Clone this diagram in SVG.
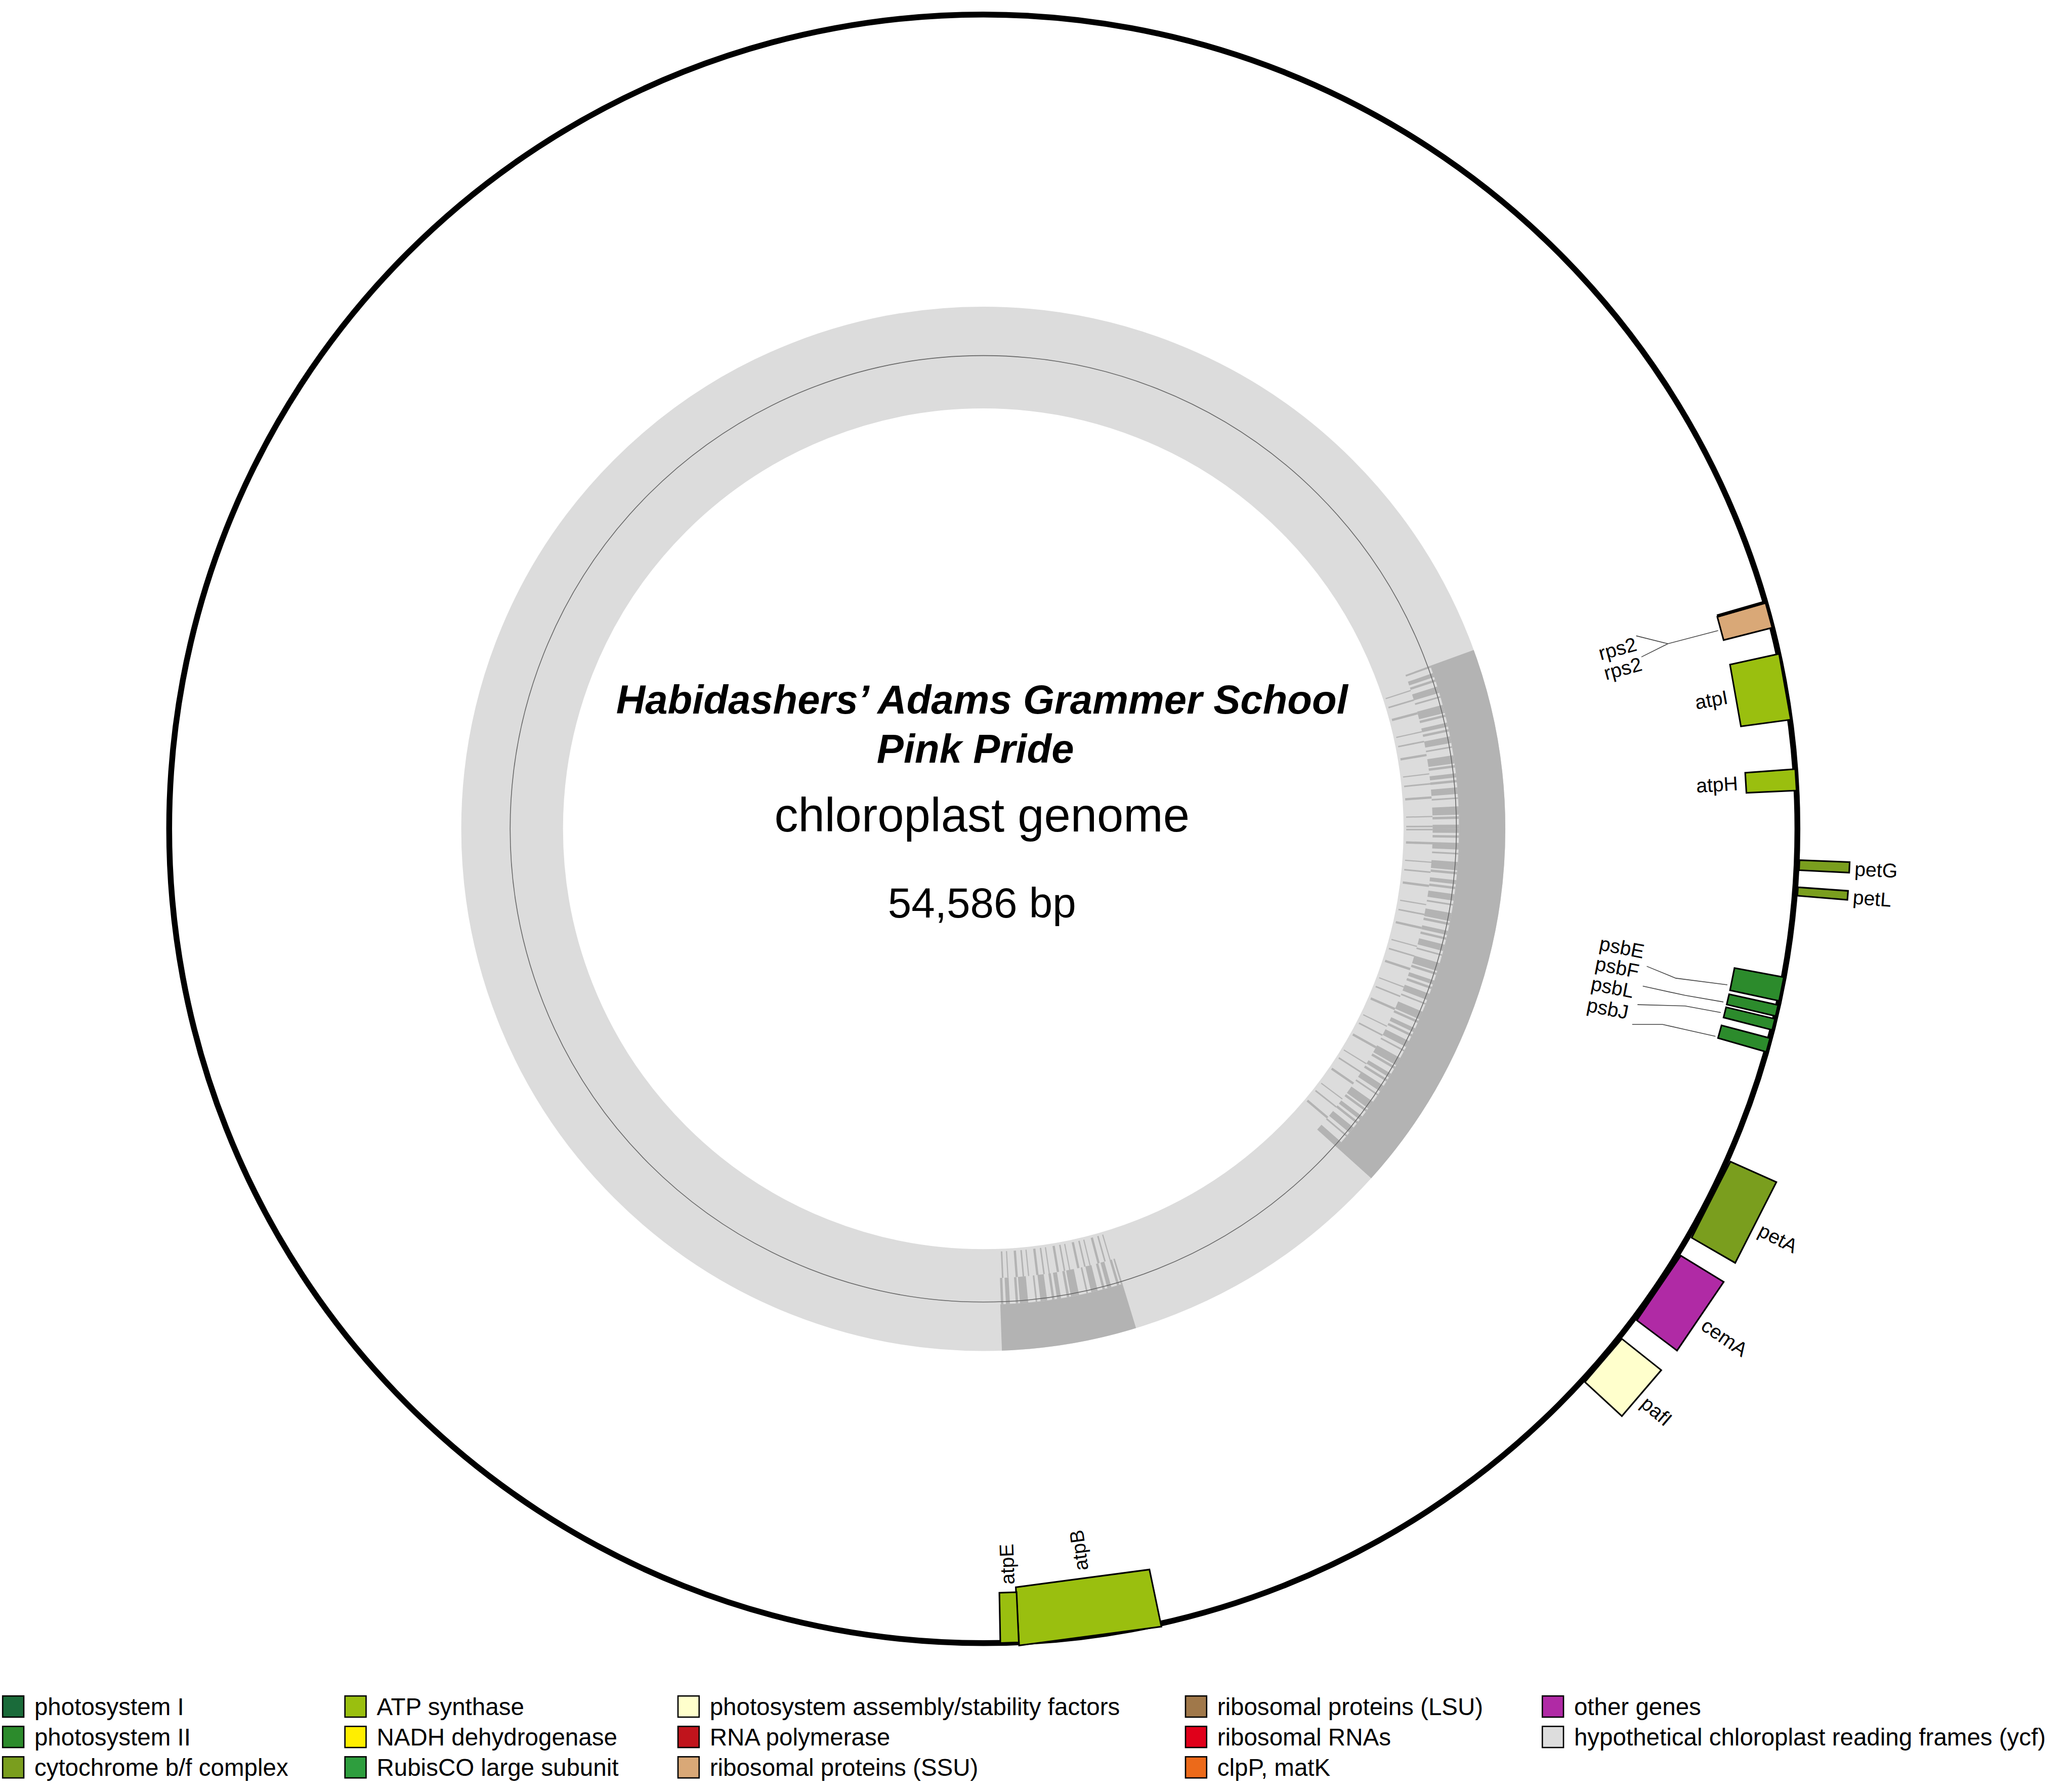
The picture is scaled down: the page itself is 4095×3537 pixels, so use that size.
<svg xmlns="http://www.w3.org/2000/svg" width="4095" height="3537" viewBox="0 0 4095 3537">
<style>
text{font-family:"Liberation Sans",Arial,sans-serif;fill:#000}
.g{stroke:#000;stroke-width:1.2}
.lbl{font-size:15px;dominant-baseline:central}
.lead{fill:none;stroke:#444;stroke-width:0.6}
.leg{font-size:18.2px;dominant-baseline:central}
.sw{stroke:#000;stroke-width:1}
</style>
<defs>
<clipPath id="c1"><polygon points="744,627 1139,483 1164,627 1139,771 1056,908"/></clipPath>
<clipPath id="c2"><polygon points="744,627 867,1029 759,1047"/></clipPath>
</defs>
<rect width="4095" height="3537" fill="#fff"/>
<g transform="scale(2.612)">
<g id="gc">
<circle cx="744" cy="627" r="356.5" fill="none" stroke="#dcdcdc" stroke-width="77"/>
<g clip-path="url(#c1)" fill="none" stroke="#b3b3b3">
<circle cx="744" cy="627" r="377.5" stroke-width="35"/>
<circle cx="744" cy="627" r="350" stroke-width="20" pathLength="360" stroke-dasharray="0.5 0.3 0.3 0.6 0.8 0.4 0.2 0.9 1.0 0.2 0.3 0.7"/>
<circle cx="744" cy="627" r="330" stroke-width="20" pathLength="360" stroke-dasharray="0.2 1.5 0.3 2.2 0.15 1.1"/>
</g>
<g clip-path="url(#c2)" fill="none" stroke="#b3b3b3">
<circle cx="744" cy="627" r="377.5" stroke-width="35"/>
<circle cx="744" cy="627" r="350" stroke-width="20" pathLength="360" stroke-dasharray="0.5 0.3 0.3 0.6 0.8 0.4 0.2 0.9 1.0 0.2 0.3 0.7"/>
<circle cx="744" cy="627" r="330" stroke-width="20" pathLength="360" stroke-dasharray="0.2 0.6 0.3 0.9 0.15 0.5"/>
</g>
<circle cx="744" cy="627" r="358" fill="none" stroke="#666" stroke-width="0.6"/>
</g>
<circle id="backbone" cx="744" cy="627" r="616" fill="none" stroke="#000" stroke-width="4.4"/>
<g id="title">
<text x="743" y="540" text-anchor="middle" font-size="30.5" font-weight="bold" font-style="italic">Habidashers’ Adams Grammer School</text>
<text x="738" y="577" text-anchor="middle" font-size="30.5" font-weight="bold" font-style="italic">Pink Pride</text>
<text x="743" y="629" text-anchor="middle" font-size="36">chloroplast genome</text>
<text x="743" y="694" text-anchor="middle" font-size="32">54,586 bp</text>
</g>
<g id="gene-rps2" transform="rotate(-15.2 744 627)">
<polygon class="g" fill="#d9a877" points="1360,617.3 1360,636.7 1322,636.1 1322,617.9"/>
<line x1="1360" y1="616.6" x2="1322" y2="617.2" stroke="#000" stroke-width="2.4"/>
</g>
<g id="gene-atpI" transform="rotate(-10.05 744 627)">
<polygon class="g" fill="#9abf0f" points="1360,601.7 1360,652.3 1322,650.7 1322,603.3"/>
<text class="lbl" x="1316" y="627" text-anchor="end">atpI</text>
</g>
<g id="gene-atpH" transform="rotate(-3.45 744 627)">
<polygon class="g" fill="#9abf0f" points="1360,618.9 1360,635.1 1322,634.6 1322,619.4"/>
<text class="lbl" x="1316" y="627" text-anchor="end">atpH</text>
</g>
<g id="gene-petG" transform="rotate(2.55 744 627)">
<polygon class="g" fill="#7a9e1e" points="1362,623.2 1362,630.8 1400,631 1400,623"/>
<text class="lbl" x="1404" y="628" text-anchor="start">petG</text>
</g>
<g id="gene-petL" transform="rotate(4.4 744 627)">
<polygon class="g" fill="#7a9e1e" points="1362,623.8 1362,630.2 1400,630.4 1400,623.6"/>
<text class="lbl" x="1404" y="628" text-anchor="start">petL</text>
</g>
<g id="gene-psbE" transform="rotate(11.35 744 627)">
<polygon class="g" fill="#2c8b2c" points="1360,617.9 1360,636.1 1322,635.6 1322,618.4"/>
</g>
<g id="gene-psbF" transform="rotate(12.9 744 627)">
<polygon class="g" fill="#2c8b2c" points="1360,622.7 1360,631.3 1322,631 1322,623"/>
</g>
<g id="gene-psbL" transform="rotate(13.9 744 627)">
<polygon class="g" fill="#2c8b2c" points="1360,622.7 1360,631.3 1322,631 1322,623"/>
</g>
<g id="gene-psbJ" transform="rotate(15.4 744 627)">
<polygon class="g" fill="#2c8b2c" points="1360,621.6 1360,632.4 1322,632 1322,622"/>
</g>
<g id="gene-petA" transform="rotate(27 744 627)">
<polygon class="g" fill="#7a9e1e" points="1362,594.7 1362,659.3 1400,661.3 1400,592.7"/>
<text class="lbl" x="1405" y="630" text-anchor="start">petA</text>
</g>
<g id="gene-cemA" transform="rotate(34.2 744 627)">
<polygon class="g" fill="#b02aa5" points="1362,597.4 1362,656.6 1400,658.4 1400,595.6"/>
<text class="lbl" x="1405" y="630" text-anchor="start">cemA</text>
</g>
<g id="gene-pafI" transform="rotate(40.6 744 627)">
<polygon class="g" fill="#ffffcc" points="1362,605.5 1362,648.5 1400,649.9 1400,604.1"/>
<text class="lbl" x="1405" y="630" text-anchor="start">pafI</text>
</g>
<g id="gene-atpB" transform="rotate(82.45 744 627)">
<polygon class="g" fill="#9abf0f" points="1360,572.7 1360,681.3 1316,678 1316,576"/>
<text class="lbl" x="1310" y="627" text-anchor="start" transform="rotate(180 1310 627)">atpB</text>
</g>
<g id="gene-atpE" transform="rotate(88.15 744 627)">
<polygon class="g" fill="#9abf0f" points="1360,620 1360,634 1322,633.5 1322,620.5"/>
<text class="lbl" x="1316" y="627" text-anchor="start" transform="rotate(180 1316 627)">atpE</text>
</g>
<g id="labels-left">
<text class="lbl" x="1238" y="487" text-anchor="end" transform="rotate(-15 1238 487)">rps2</text>
<text class="lbl" x="1242" y="502" text-anchor="end" transform="rotate(-15 1242 502)">rps2</text>
<text class="lbl" x="1244" y="720" text-anchor="end" transform="rotate(11 1244 720)">psbE</text>
<text class="lbl" x="1240" y="735" text-anchor="end" transform="rotate(11 1240 735)">psbF</text>
<text class="lbl" x="1236" y="750" text-anchor="end" transform="rotate(11 1236 750)">psbL</text>
<text class="lbl" x="1232" y="766" text-anchor="end" transform="rotate(11 1232 766)">psbJ</text>
</g>
<g id="connectors">
<polyline class="lead" points="1238,481 1262,487 1300,477"/>
<polyline class="lead" points="1242,497 1262,487"/>
<polyline class="lead" points="1246,731 1268,740 1307,745"/>
<polyline class="lead" points="1243,746 1275,753 1304,758"/>
<polyline class="lead" points="1239,760 1275,761 1302,766"/>
<polyline class="lead" points="1235,775 1258,775 1298,784"/>
</g>
<g id="legend">
<rect class="sw" x="2" y="1283" width="16" height="16" fill="#1a6b3a"/><text class="leg" x="26" y="1291">photosystem I</text>
<rect class="sw" x="2" y="1306" width="16" height="16" fill="#2c8b2c"/><text class="leg" x="26" y="1314">photosystem II</text>
<rect class="sw" x="2" y="1329" width="16" height="16" fill="#7a9e1e"/><text class="leg" x="26" y="1337">cytochrome b/f complex</text>
<rect class="sw" x="261" y="1283" width="16" height="16" fill="#9abf0f"/><text class="leg" x="285" y="1291">ATP synthase</text>
<rect class="sw" x="261" y="1306" width="16" height="16" fill="#ffee00"/><text class="leg" x="285" y="1314">NADH dehydrogenase</text>
<rect class="sw" x="261" y="1329" width="16" height="16" fill="#2e9e3e"/><text class="leg" x="285" y="1337">RubisCO large subunit</text>
<rect class="sw" x="513" y="1283" width="16" height="16" fill="#ffffcc"/><text class="leg" x="537" y="1291">photosystem assembly/stability factors</text>
<rect class="sw" x="513" y="1306" width="16" height="16" fill="#c0141c"/><text class="leg" x="537" y="1314">RNA polymerase</text>
<rect class="sw" x="513" y="1329" width="16" height="16" fill="#d9a877"/><text class="leg" x="537" y="1337">ribosomal proteins (SSU)</text>
<rect class="sw" x="897" y="1283" width="16" height="16" fill="#a0784a"/><text class="leg" x="921" y="1291">ribosomal proteins (LSU)</text>
<rect class="sw" x="897" y="1306" width="16" height="16" fill="#e0001a"/><text class="leg" x="921" y="1314">ribosomal RNAs</text>
<rect class="sw" x="897" y="1329" width="16" height="16" fill="#ec6a1a"/><text class="leg" x="921" y="1337">clpP, matK</text>
<rect class="sw" x="1167" y="1283" width="16" height="16" fill="#b02aa5"/><text class="leg" x="1191" y="1291">other genes</text>
<rect class="sw" x="1167" y="1306" width="16" height="16" fill="#dddddd"/><text class="leg" x="1191" y="1314">hypothetical chloroplast reading frames (ycf)</text>
</g>
</g>
</svg>
